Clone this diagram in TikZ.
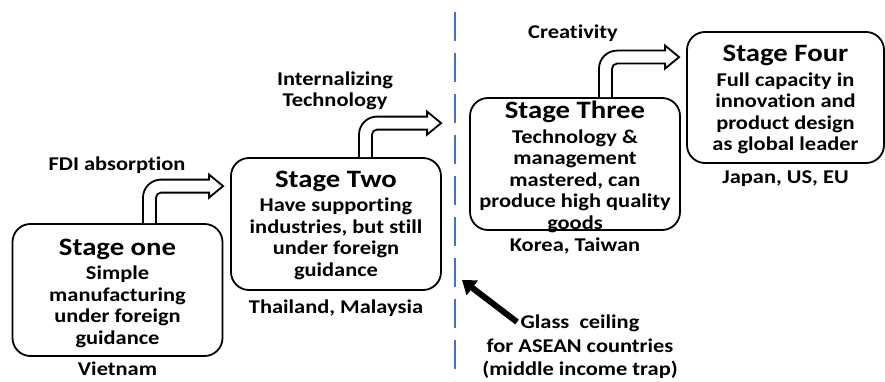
\documentclass[tikz,border=0pt]{standalone}
\usepackage{fontspec}
\setmainfont{Carlito}[FakeStretch=1.15,Ligatures=NoCommon]
\usetikzlibrary{arrows.meta,calc,positioning}

\definecolor{dividerblue}{RGB}{68,114,196}

\tikzset{
  stagebox/.style={draw,line width=1.8pt,rounded corners=18pt,minimum width=210pt,minimum height=132pt,inner sep=0pt},
  stagetext/.style={align=center,inner sep=0pt,font=\bfseries\fontsize{19.5}{21.5}\selectfont},
  country/.style={inner sep=0pt,font=\bfseries\fontsize{19.5}{21.5}\selectfont},
  blockarrow/.style={line width=1.8pt,fill=white,line join=miter},
}

\newcommand{\stagetitle}[1]{{\fontsize{25}{26}\selectfont #1}\\[3pt]}

% gebogener Blockpfeil: Start (Boxoberkante), Spitze
\newcommand{\bentarrow}[2]{%
  \draw[blockarrow] let \p1=(#1), \p2=(#2) in
    (\x1-6.5pt,\y1) -- (\x1-6.5pt,\y2+6.5pt-18pt)
    arc[start angle=180,end angle=90,radius=18pt]
    -- (\x2-14pt,\y2+6.5pt) -- (\x2-14pt,\y2+11.5pt) -- (\x2,\y2)
    -- (\x2-14pt,\y2-11.5pt) -- (\x2-14pt,\y2-6.5pt)
    -- (\x1+11.5pt,\y2-6.5pt)
    arc[start angle=90,end angle=180,radius=5pt]
    -- (\x1+6.5pt,\y1);}

\begin{document}
\begin{tikzpicture}[x=1pt,y=1pt]

\useasboundingbox (0,0) rectangle (885,381);

% Trennlinie
\coordinate (divtop) at (455,369);
\coordinate (divbot) at (455,0);
\draw[dividerblue,line width=1.6pt,dash pattern=on 29pt off 12pt] (divtop)--(divbot);

% Stufen
\node[stagebox] (box1) at (117.5,91) {};
\node[stagebox] (box2) at (336,157) {};
\node[stagebox] (box3) at (575,217) {};
\node[stagebox,minimum width=197pt,minimum height=131pt] (box4) at (785.5,283.5) {};

\node[stagetext] (txt1) at ($(box1.center)+(0,-3)$) {\stagetitle{Stage one}Simple\\manufacturing\\under foreign\\guidance};
\node[stagetext] (txt2) at ($(box2.center)+(0,-1)$) {\stagetitle{Stage Two}Have supporting\\industries, but still\\under foreign\\guidance};
\node[stagetext] (txt3) at ($(box3.center)+(0,-3)$) {\stagetitle{Stage Three}Technology \&\\management\\mastered, can\\produce high quality\\goods};
\node[stagetext] (txt4) at ($(box4.center)+(0,-2)$) {\stagetitle{Stage Four}Full capacity in\\innovation and\\product design\\as global leader};

% Laender
\node[country,below=5pt of box1] (land1) {Vietnam};
\node[country,below=9pt of box2] (land2) {Thailand, Malaysia};
\node[country,below=7pt of box3] (land3) {Korea, Taiwan};
\node[country,below=7pt of box4] (land4) {Japan, US, EU};

% Blockpfeile
\coordinate (s1) at ($(box1.north)+(32,0)$);
\coordinate (t1) at ($(box2.north west)+(-7,-29)$);
\coordinate (s2) at ($(box2.north)+(29.5,0)$);
\coordinate (t2) at ($(box3.north west)+(-28,-26)$);
\coordinate (s3) at ($(box3.north)+(30.5,0)$);
\coordinate (t3) at ($(box4.north west)+(-7,-26)$);
\bentarrow{s1}{t1}
\bentarrow{s2}{t2}
\bentarrow{s3}{t3}

\node[stagetext] (lab1) at (117,216) {FDI absorption};
\node[stagetext] (lab2) at (335,290) {Internalizing\\Technology};
\node[stagetext] (lab3) at (573,348) {Creativity};

% Glasdecke
\node[stagetext,font=\bfseries\fontsize{19.5}{23.5}\selectfont] (glass) at (580,34) {Glass\ \ ceiling\\for ASEAN countries\\(middle income trap)};
\coordinate (gfrom) at (517,59);
\coordinate (gtip) at (462,101);
\draw[line width=6pt,-{Triangle[length=13pt,width=18pt]}] (gfrom)--(gtip);

\end{tikzpicture}
\end{document}
